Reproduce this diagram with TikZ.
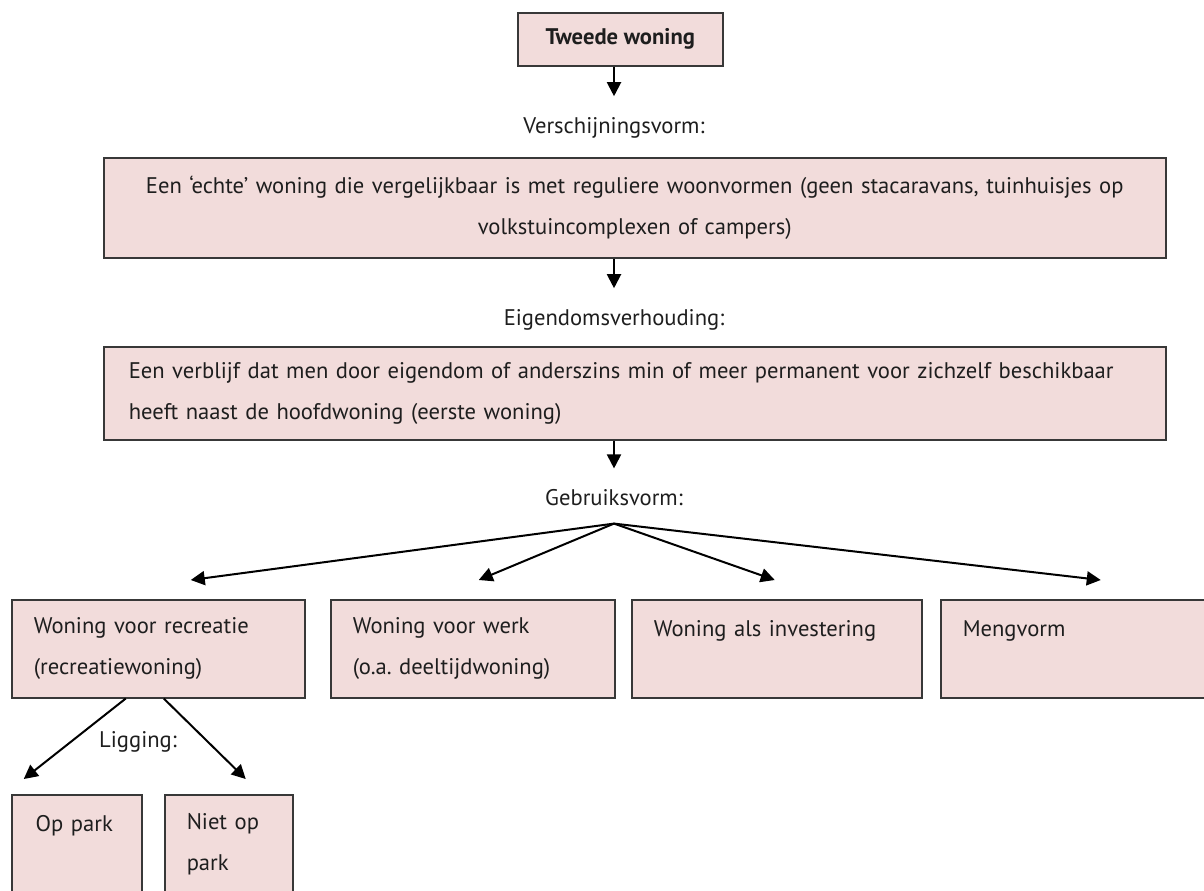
\documentclass[tikz,border=0pt]{standalone}
\usepackage{fontspec}
\setmainfont{PT Sans}
\usetikzlibrary{arrows.meta,positioning}
\definecolor{boxpink}{HTML}{F2DCDB}
\definecolor{boxline}{HTML}{383838}
\definecolor{txtgray}{HTML}{1E1E1E}
\frenchspacing

\begin{document}
\begin{tikzpicture}[x=0.5pt, y=-0.5pt,
    font=\fontsize{11.3}{20.5}\selectfont, text=txtgray,
    box/.style={draw=boxline, fill=boxpink, line width=0.75pt,
      inner xsep=11pt, inner ysep=0pt, anchor=north west},
    lbl/.style={inner sep=0pt},
    arr/.style={-{Triangle[length=7pt,width=7pt]}, line width=1pt},
    tolbl/.style={arr, shorten >=10.5pt}]
  \useasboundingbox (0,0) rectangle (1204,890);
  \clip (0,0) rectangle (1204,890);

  % chain down the middle
  \node[box, minimum width=102.5pt, minimum height=26.5pt, font=\fontsize{11.3}{20.5}\selectfont\bfseries]
    (tweede) at (517,12) {Tweede woning};
  \node[lbl] (verschijning) at (614,128) {Verschijningsvorm:};
  \node[box, minimum width=531pt, minimum height=50pt, text width=509pt, align=center]
    (echt) at (103,157) {Een `echte' woning die vergelijkbaar is met reguliere woonvormen (geen stacaravans, tuinhuisjes op\\volkstuincomplexen of campers)};
  \node[lbl] (eigendom) at (614,320) {Eigendomsverhouding:};
  \node[box, minimum width=531pt, minimum height=46.5pt, inner xsep=12.5pt, text width=506pt, align=left]
    (verblijf) at (103,346) {Een verblijf dat men door eigendom of anderszins min of meer permanent voor zichzelf beschikbaar\\heeft naast de hoofdwoning (eerste woning)};
  \node[lbl] (gebruik) at (614,498) {Gebruiksvorm:};

  % gebruiksvormen
  \node[box, minimum width=146.5pt, minimum height=49pt, text width=124.5pt, align=left]
    (recreatie) at (11,599) {Woning voor recreatie\\(recreatiewoning)};
  \node[box, minimum width=142pt, minimum height=49pt, text width=120pt, align=left]
    (werk) at (330,599) {Woning voor werk\\(o.a. deeltijdwoning)};
  \node[box, minimum width=145pt, minimum height=49pt, text width=123pt, align=left]
    (investering) at (631,599) {Woning als investering\\\mbox{}};
  \node[box, minimum width=150pt, minimum height=49pt, text width=128pt, align=left]
    (meng) at (940,599) {Mengvorm\\\mbox{}};

  % ligging
  \node[lbl] (ligging) at (138,742) {Ligging:};
  \node[box, minimum width=65pt, minimum height=49pt, inner xsep=12pt, text width=41pt, align=left]
    (oppark) at (11,794) {Op park\\\mbox{}};
  \node[box, minimum width=64pt, minimum height=49pt, text width=42pt, align=left]
    (nietoppark) at (164,794) {Niet op\\park};

  \draw[tolbl] (verschijning |- tweede.south) -- (verschijning.north);
  \draw[tolbl] (eigendom |- echt.south) -- (eigendom.north);
  \draw[tolbl] (gebruik |- verblijf.south) -- (gebruik.north);

  \coordinate (split) at ([yshift=-8.5pt]gebruik.south);
  \draw[arr] (split) -- ([xshift=16.25pt, yshift=9.5pt]recreatie.north);
  \draw[arr] (split) -- ([xshift=3pt, yshift=9.5pt]werk.north);
  \draw[arr] (split) -- ([xshift=-1pt, yshift=9.5pt]investering.north);
  \draw[arr] (split) -- ([xshift=5pt, yshift=9.5pt]meng.north);

  \draw[arr] ([xshift=-16.25pt]recreatie.south) -- ([xshift=-26.5pt, yshift=7.5pt]oppark.north);
  \draw[arr] ([xshift=2.75pt]recreatie.south) -- ([xshift=8.5pt, yshift=7.5pt]nietoppark.north);
\end{tikzpicture}
\end{document}
